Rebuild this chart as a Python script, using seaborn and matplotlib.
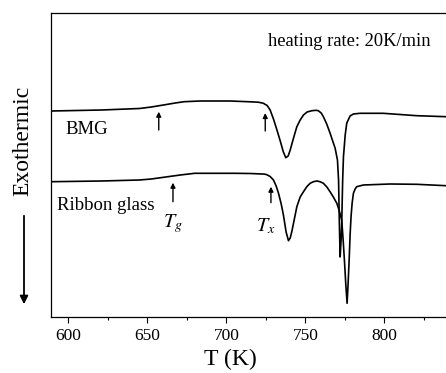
import pandas as pd
import seaborn as sns
import matplotlib.pyplot as plt

# DSC traces (signal in arbitrary units)
bmg_T = [589.3, 620.9, 645.0, 652.5, 661.3, 667.6, 673.3, 683.5, 702.4, 715.1, 720.1,
         723.3, 725.8, 727.7, 729.8, 732.0, 734.1, 736.0, 737.6, 739.1, 740.4,
         742.5, 744.6, 746.7, 748.8, 751.1, 754.1, 756.8, 758.2, 760.0, 761.4,
         763.5, 765.6, 767.5, 768.8, 770.3, 771.0, 771.5, 772.0, 772.6, 773.0,
         773.6, 774.1, 775.2, 776.2, 778.3, 780.4, 784.6, 799.2, 820.5, 839.0]
bmg_signal = [206, 207, 208.5, 210, 212.3, 214, 215.3, 216, 216, 215.2, 214.8,
              213.8, 211.5, 207, 198, 187, 176, 165.3, 159.3, 161, 167,
              179, 190.3, 197, 202, 205, 206.3, 206.7, 206.3, 204, 200.3,
              193, 184, 175, 169, 157, 137, 94, 60, 77, 94,
              137, 160.3, 182, 194, 201, 203, 203.7, 203.7, 201.3, 200.3]

ribbon_T = [589.3, 620.9, 645.0, 652.5, 663.0, 670.8, 679.9, 705.0, 715.1, 724.1, 725.6,
            727.7, 729.8, 731.5, 733.0, 734.7, 736.1, 737.8, 739.3, 740.4, 741.4,
            742.9, 744.6, 746.7, 748.8, 750.9, 753.0, 755.1, 757.2, 759.3, 761.4,
            763.6, 765.6, 767.7, 769.9, 771.3, 773.0, 773.9, 774.7, 775.6, 776.4,
            777.0, 777.7, 778.3, 778.9, 779.6, 780.4, 781.5, 782.5, 786.7, 803.6,
            820.5, 839.0]
ribbon_signal = [135.3, 136, 137, 138, 140.3, 142, 143.7, 143.7, 143.5, 142.9, 142.3,
                 140.5, 137, 131, 123.7, 113, 102, 85, 76.3, 79, 85.3,
                 97, 110.3, 120, 125.3, 130.3, 133.7, 135.3, 136, 135.3, 133.7,
                 130, 125.3, 120, 113.7, 107, 97, 77, 57, 32, 13.7,
                 32, 57, 82, 100.3, 114, 123.7, 128, 130.3, 132, 133,
                 132.7, 131.3]

# Tg / Tx arrow positions (T, tail, head)
bmg_marks = [(657.2, 187, 205.3), (724.6, 186, 204)]
ribbon_marks = [(666.2, 115.3, 134.3), (728.2, 114.3, 130.3)]

df = pd.concat([
    pd.DataFrame({"T": bmg_T, "signal": bmg_signal, "sample": "BMG"}),
    pd.DataFrame({"T": ribbon_T, "signal": ribbon_signal, "sample": "Ribbon glass"}),
])

sns.set_theme(style="ticks")
plt.rcParams["font.family"] = ["Liberation Serif", "DejaVu Serif"]
plt.rcParams["mathtext.fontset"] = "stix"
plt.rcParams["text.color"] = "black"
plt.rcParams["axes.labelcolor"] = "black"

fig = plt.figure(figsize=(4.46, 3.73), dpi=100)
ax = fig.add_axes([51 / 446, 1 - 317 / 373, 1 - 51 / 446, (317 - 13) / 373])

sns.lineplot(data=df, x="T", y="signal", units="sample", estimator=None,
             color="black", lw=1.2, sort=False, ax=ax)

ax.set_xlim(589, 839)
ax.set_ylim(0, 304)
ax.set_xticks([600, 650, 700, 750, 800])
ax.set_xticks([625, 675, 725, 775, 825], minor=True)
ax.set_yticks([])
ax.tick_params(axis="x", which="major", direction="out", length=4, width=0.8,
               labelsize=12.5, pad=4, colors="black")
ax.tick_params(axis="x", which="minor", direction="out", length=2.5, width=0.8,
               colors="black")
ax.spines["right"].set_visible(False)
for s in ["left", "top", "bottom"]:
    ax.spines[s].set_linewidth(0.9)
    ax.spines[s].set_color("black")

ax.set_ylabel("")
ax.set_xlabel("T (K)", fontsize=17, color="black")
ax.xaxis.set_label_coords((230 - 51) / 395, -0.105)

arrow = dict(arrowstyle="-|>", lw=1.0, color="black", mutation_scale=7,
             shrinkA=0, shrinkB=0)
for t, tail, head in bmg_marks + ribbon_marks:
    ax.annotate("", xy=(t, head), xytext=(t, tail), arrowprops=arrow)

ax.text(598, 187, "BMG", fontsize=13.5, va="center", ha="left")
ax.text(593, 111.3, "Ribbon glass", fontsize=13.5, va="center", ha="left")
ax.text(666.4, 93, r"$T_g$", fontsize=14.5, va="center", ha="center")
ax.text(725.2, 91, r"$T_x$", fontsize=14.5, va="center", ha="center")
ax.text(726.4, 275.3, "heating rate: 20K/min", fontsize=13.3, va="center", ha="left")

# vertical "Exothermic" label with a downward arrow
fig.text(23 / 446, 1 - 141 / 373, "Exothermic", rotation=90, fontsize=17,
         ha="center", va="center")
fig.patches.append(plt.matplotlib.patches.FancyArrowPatch(
    (24 / 446, 1 - 213 / 373), (24 / 446, 1 - 307 / 373), transform=fig.transFigure,
    arrowstyle="-|>", mutation_scale=12, lw=1.3, color="black"))

fig.savefig("out.png", dpi=100)
